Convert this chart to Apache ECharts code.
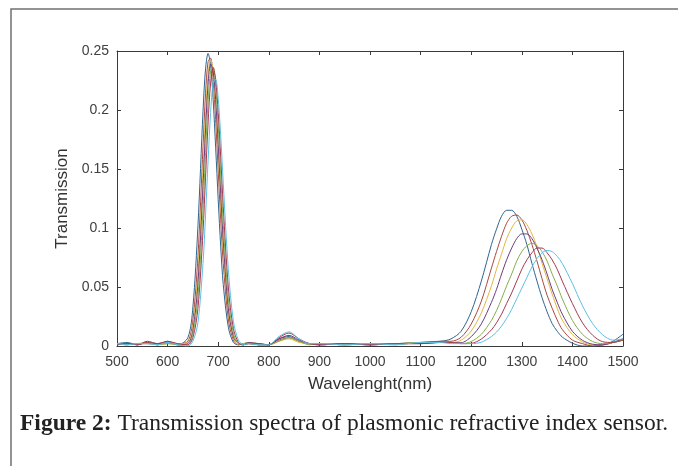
<!DOCTYPE html>
<html>
<head>
<meta charset="utf-8">
<script src="https://cdn.jsdelivr.net/npm/echarts@6/dist/echarts.min.js"></script>
<style>
  html, body { margin: 0; padding: 0; background: #fff; }
  #spectra { width: 678px; height: 466px; }
</style>
</head>
<body>
<div id="spectra"></div>
<script>
  // wavelength sample points (nm), denser around the peaks
  const wavelengths = [500, 520, 540, 560, 580, 600, 620, 640, 650, 660, 670, 675, 680, 685, 690, 695, 700, 705, 710,
    720, 730, 740, 750, 760, 780, 800, 820, 840, 860, 880, 900, 950, 1000, 1050, 1100,
    1140, 1160, 1180, 1200, 1220, 1240, 1250, 1260, 1270, 1280, 1290, 1300, 1310, 1320, 1330, 1340, 1350, 1360, 1370, 1380,
    1400, 1420, 1440, 1460, 1480, 1500];

  // transmission, one array per curve
  const curve1 = [0.002, 0.003, 0.001, 0.003, 0.001, 0.004, 0.001, 0.007, 0.033, 0.102, 0.199, 0.235, 0.248, 0.238, 0.209, 0.168, 0.124, 0.084, 0.052,
    0.016, 0.003, 0.001, 0.002, 0.003, 0.001, 0.001, 0.006, 0.008, 0.004, 0.002, 0.002, 0.001, 0.002, 0.002, 0.003,
    0.004, 0.006, 0.0125, 0.029, 0.055, 0.086, 0.099, 0.110, 0.115, 0.115, 0.110, 0.099, 0.086, 0.070, 0.055, 0.041, 0.029, 0.019, 0.0125, 0.0076,
    0.0024, 0.000, 0.000, 0.001, 0.004, 0.010];
  const curve2 = [0.001, 0.002, 0.002, 0.002, 0.002, 0.003, 0.002, 0.004, 0.022, 0.076, 0.169, 0.214, 0.241, 0.244, 0.226, 0.192, 0.149, 0.107, 0.070,
    0.023, 0.005, 0.001, 0.002, 0.002, 0.001, 0.001, 0.005, 0.007, 0.004, 0.002, 0.001, 0.002, 0.001, 0.002, 0.003,
    0.004, 0.004, 0.0074, 0.0186, 0.038, 0.066, 0.080, 0.093, 0.104, 0.110, 0.111, 0.107, 0.098, 0.086, 0.072, 0.057, 0.043, 0.032, 0.022, 0.014,
    0.005, 0.002, 0.000, 0.001, 0.003, 0.006];
  const curve3 = [0.002, 0.001, 0.002, 0.003, 0.001, 0.002, 0.002, 0.003, 0.016, 0.061, 0.148, 0.195, 0.230, 0.243, 0.233, 0.204, 0.165, 0.122, 0.082,
    0.029, 0.007, 0.001, 0.002, 0.003, 0.002, 0.001, 0.004, 0.006, 0.003, 0.002, 0.002, 0.001, 0.002, 0.001, 0.003,
    0.003, 0.003, 0.0048, 0.0127, 0.028, 0.051, 0.065, 0.078, 0.091, 0.100, 0.106, 0.107, 0.103, 0.095, 0.084, 0.070, 0.057, 0.044, 0.032, 0.022,
    0.0097, 0.0035, 0.001, 0.001, 0.003, 0.005];
  const curve4 = [0.001, 0.002, 0.001, 0.004, 0.002, 0.003, 0.001, 0.002, 0.013, 0.053, 0.136, 0.183, 0.222, 0.239, 0.233, 0.209, 0.171, 0.129, 0.089,
    0.032, 0.008, 0.002, 0.001, 0.003, 0.002, 0.001, 0.006, 0.009, 0.005, 0.002, 0.001, 0.002, 0.001, 0.002, 0.002,
    0.003, 0.003, 0.0028, 0.0079, 0.0187, 0.037, 0.048, 0.061, 0.073, 0.083, 0.091, 0.095, 0.095, 0.091, 0.083, 0.073, 0.061, 0.048, 0.037, 0.027,
    0.0125, 0.0048, 0.0015, 0.001, 0.003, 0.006];
  const curve5 = [0.002, 0.001, 0.002, 0.002, 0.001, 0.002, 0.001, 0.001, 0.010, 0.042, 0.116, 0.164, 0.207, 0.233, 0.236, 0.219, 0.186, 0.144, 0.103,
    0.040, 0.011, 0.002, 0.001, 0.002, 0.001, 0.001, 0.004, 0.007, 0.004, 0.001, 0.002, 0.001, 0.002, 0.002, 0.003,
    0.003, 0.003, 0.002, 0.0038, 0.0099, 0.0217, 0.030, 0.040, 0.051, 0.061, 0.072, 0.080, 0.085, 0.087, 0.085, 0.080, 0.072, 0.061, 0.051, 0.040,
    0.0217, 0.0099, 0.0038, 0.002, 0.003, 0.005];
  const curve6 = [0.001, 0.002, 0.001, 0.003, 0.002, 0.004, 0.002, 0.001, 0.007, 0.032, 0.097, 0.143, 0.189, 0.223, 0.236, 0.226, 0.198, 0.160, 0.118,
    0.050, 0.015, 0.003, 0.001, 0.002, 0.002, 0.001, 0.007, 0.011, 0.006, 0.002, 0.001, 0.002, 0.001, 0.002, 0.002,
    0.003, 0.003, 0.002, 0.0022, 0.0059, 0.0137, 0.0196, 0.027, 0.036, 0.045, 0.055, 0.065, 0.073, 0.079, 0.083, 0.083, 0.079, 0.073, 0.065, 0.055,
    0.036, 0.0196, 0.0091, 0.0036, 0.003, 0.005];
  const curve7 = [0.002, 0.001, 0.002, 0.002, 0.001, 0.003, 0.001, 0.000, 0.004, 0.020, 0.070, 0.111, 0.157, 0.198, 0.223, 0.226, 0.210, 0.178, 0.138,
    0.065, 0.021, 0.005, 0.001, 0.002, 0.001, 0.001, 0.008, 0.012, 0.006, 0.002, 0.002, 0.001, 0.002, 0.001, 0.003,
    0.003, 0.002, 0.002, 0.002, 0.0032, 0.008, 0.0118, 0.0169, 0.0234, 0.031, 0.040, 0.049, 0.058, 0.067, 0.074, 0.079, 0.081, 0.080, 0.076, 0.070,
    0.053, 0.034, 0.019, 0.0094, 0.005, 0.006];

  const curves = [curve1, curve2, curve3, curve4, curve5, curve6, curve7];
  const colors = ['#2e6590', '#a8483f', '#e3b53f', '#6b3c80', '#86ad4e', '#a33a4f', '#5cc0e6'];

  const xTicks = { min: 500, max: 1500, interval: 100 };
  const yTicks = { min: 0, max: 0.25, interval: 0.05 };

  let chart = echarts.init(document.getElementById('spectra'), null, { renderer: 'canvas' });

  const axisFont = '"Liberation Sans", Arial, Helvetica, sans-serif';
  const serifFont = '"Liberation Serif", "Times New Roman", serif';
  const lineStyle = { color: '#3a3a3a', width: 1 };
  const tickStyle = { show: true, inside: true, length: 4, lineStyle: lineStyle };

  let option = {
    backgroundColor: '#ffffff',
    animation: false,
    color: colors,
    grid: { left: 117, top: 51, right: 55, bottom: 120 },
    xAxis: [
      {
        type: 'value',
        min: xTicks.min, max: xTicks.max, interval: xTicks.interval,
        name: 'Wavelenght(nm)',
        nameLocation: 'middle',
        nameGap: 30,
        nameTextStyle: { fontFamily: axisFont, fontSize: 17, color: '#333' },
        axisLine: { show: true, onZero: false, lineStyle: lineStyle },
        axisTick: tickStyle,
        axisLabel: {
          fontFamily: axisFont, fontSize: 14, color: '#404040', margin: 9,
          formatter: v => String(v)
        },
        splitLine: { show: false }
      },
      {
        type: 'value', position: 'top',
        min: xTicks.min, max: xTicks.max, interval: xTicks.interval,
        axisLine: { show: true, onZero: false, lineStyle: lineStyle },
        axisTick: tickStyle,
        axisLabel: { show: false },
        splitLine: { show: false }
      }
    ],
    yAxis: [
      {
        type: 'value',
        min: yTicks.min, max: yTicks.max, interval: yTicks.interval,
        name: 'Transmission',
        nameLocation: 'middle',
        nameGap: 42,
        nameTextStyle: { fontFamily: axisFont, fontSize: 17, color: '#333' },
        axisLine: { show: true, onZero: false, lineStyle: lineStyle },
        axisTick: tickStyle,
        axisLabel: {
          fontFamily: axisFont, fontSize: 14, color: '#404040', margin: 8,
          formatter: v => String(parseFloat(v.toFixed(2)))
        },
        splitLine: { show: false }
      },
      {
        type: 'value', position: 'right',
        min: yTicks.min, max: yTicks.max, interval: yTicks.interval,
        axisLine: { show: true, onZero: false, lineStyle: lineStyle },
        axisTick: tickStyle,
        axisLabel: { show: false },
        splitLine: { show: false }
      }
    ],
    series: curves.map((c, i) => ({
      name: 'curve ' + (i + 1),
      type: 'line',
      smooth: 0.3,
      showSymbol: false,
      clip: true,
      lineStyle: { width: 1, color: colors[i] },
      data: wavelengths.map((w, j) => [w, c[j]])
    })),
    graphic: [
      {
        // figure frame (only top and left edges fall inside the page)
        type: 'rect',
        shape: { x: 11, y: 9, width: 720, height: 520 },
        style: { fill: 'none', stroke: '#707070', lineWidth: 1.5 },
        silent: true
      },
      {
        type: 'text',
        left: 20,
        top: 412,
        style: {
          text: '{b|Figure 2:} Transmission spectra of plasmonic refractive index sensor.',
          font: '23.5px ' + serifFont,
          fill: '#222',
          rich: {
            b: { fontFamily: serifFont, fontSize: 23.5, fontWeight: 'bold', fill: '#222' }
          }
        }
      }
    ]
  };

  chart.setOption(option);
</script>
</body>
</html>
